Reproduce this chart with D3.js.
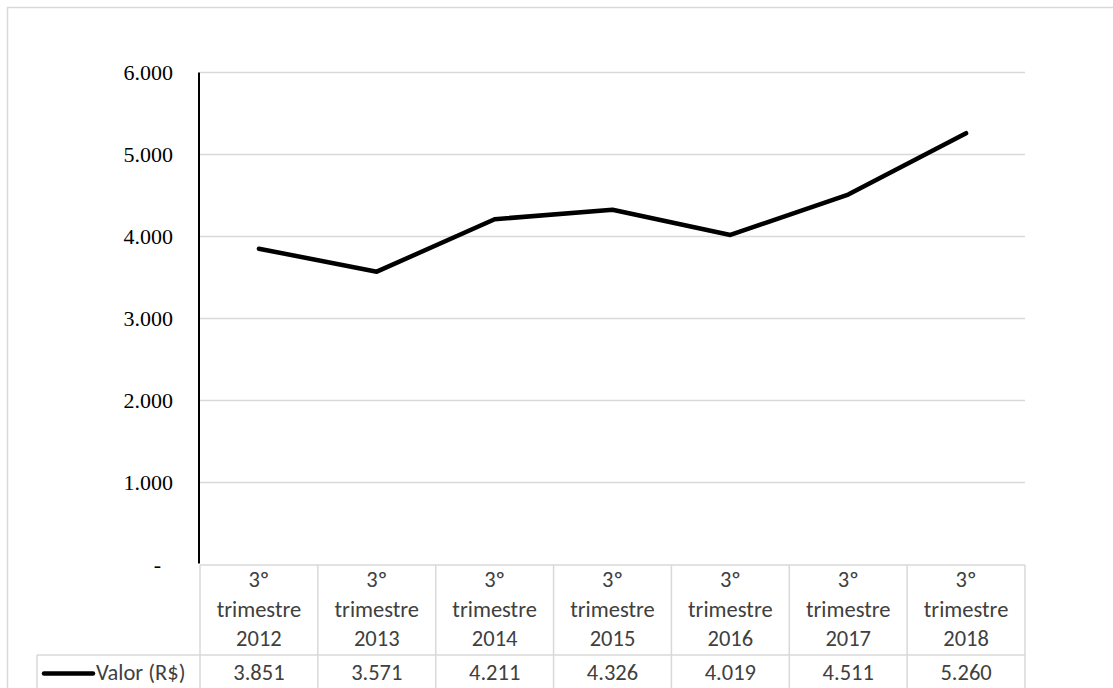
<!DOCTYPE html>
<html>
<head>
<meta charset="utf-8">
<script src="https://cdn.jsdelivr.net/npm/d3@7"></script>
<style>
  body { margin: 0; background: #fff; }
  svg { display: block; }
</style>
</head>
<body>
<svg id="viz"></svg>
<script>
/* Data */

const periods = ["3º trimestre 2012", "3º trimestre 2013", "3º trimestre 2014", "3º trimestre 2015",
                 "3º trimestre 2016", "3º trimestre 2017", "3º trimestre 2018"];
const values = [3851, 3571, 4211, 4326, 4019, 4511, 5260];
const valueLabels = ["3.851", "3.571", "4.211", "4.326", "4.019", "4.511", "5.260"];
const yTicks = [0, 1000, 2000, 3000, 4000, 5000, 6000];
const seriesName = "Valor (R$)";

/* Environment */

const width = 1113, height = 688;
const grid = "#d9d9d9";
const tableFont = "Carlito, Lato, 'Open Sans', sans-serif";

const svg = d3.select("#viz").attr("width", width).attr("height", height);

/* Scales */

const x = d3.scaleBand().domain(periods).range([200, 1025]).padding(0);
const y = d3.scaleLinear().domain([0, 6000]).range([564.5, 72.5]);

/* Chart border */

svg.append("rect")
    .attr("x", 7.5).attr("y", 7.5)
    .attr("width", width).attr("height", height)
    .attr("fill", "none").attr("stroke", grid).attr("stroke-width", 1.5);

/* Gridlines */

svg.append("g").selectAll("line")
  .data(yTicks.slice(1))
  .join("line")
    .attr("x1", 200).attr("x2", 1025)
    .attr("y1", d => y(d)).attr("y2", d => y(d))
    .attr("stroke", grid).attr("stroke-width", 1.5);

/* Y axis */

const fmt = d => d === 0 ? "-" : d3.format(",")(d).replace(/,/g, ".");

svg.append("g")
    .attr("transform", "translate(199,0)")
    .call(d3.axisLeft(y).tickValues(yTicks).tickSize(0).tickPadding(26).tickFormat(fmt))
    .call(g => g.select(".domain").attr("stroke", "#000").attr("stroke-width", 2)
        .attr("d", `M0,${y(6000)}V${y(0) - 1}`))
    .call(g => g.selectAll("text")
        .attr("font-family", "'Liberation Serif', 'Times New Roman', serif")
        .attr("font-size", 22).attr("fill", "#000")
        .attr("dx", d => d === 0 ? -12 : 0));

/* Data table */

const table = svg.append("g").attr("font-family", tableFont).attr("font-size", 22.5).attr("fill", "#404040");
const headTop = 565, rowTop = 655, rowBottom = 690;

table.append("line").attr("x1", 200).attr("x2", 1025).attr("y1", headTop).attr("y2", headTop)
    .attr("stroke", grid).attr("stroke-width", 1.5);
table.append("line").attr("x1", 37).attr("x2", 1025).attr("y1", rowTop).attr("y2", rowTop)
    .attr("stroke", grid).attr("stroke-width", 1.5);
table.append("line").attr("x1", 37).attr("x2", 37).attr("y1", rowTop).attr("y2", rowBottom)
    .attr("stroke", grid).attr("stroke-width", 1.5);

const edges = periods.map(p => x(p)).concat([x.range()[1]]);
table.selectAll("line.col")
  .data(edges)
  .join("line")
    .attr("class", "col")
    .attr("x1", d => d).attr("x2", d => d)
    .attr("y1", headTop).attr("y2", rowBottom)
    .attr("stroke", grid).attr("stroke-width", 1.5);

const head = table.selectAll("text.head")
  .data(periods)
  .join("text")
    .attr("class", "head")
    .attr("text-anchor", "middle");

head.selectAll("tspan")
  .data(d => d.split(" ").map(t => ({t, p: d})))
  .join("tspan")
    .attr("x", d => x(d.p) + x.bandwidth() / 2)
    .attr("y", (d, i) => 587 + i * 29.5)
    .text(d => d.t);

table.selectAll("text.val")
  .data(values)
  .join("text")
    .attr("class", "val")
    .attr("x", (d, i) => x(periods[i]) + x.bandwidth() / 2)
    .attr("y", 680)
    .attr("text-anchor", "middle")
    .text((d, i) => valueLabels[i]);

/* Legend key */

table.append("line")
    .attr("x1", 44).attr("x2", 93).attr("y1", 673.5).attr("y2", 673.5)
    .attr("stroke", "#000").attr("stroke-width", 4.5).attr("stroke-linecap", "round");
table.append("text")
    .attr("x", 96).attr("y", 680)
    .text(seriesName);

/* Line */

const line = d3.line()
    .x((d, i) => x(periods[i]) + x.bandwidth() / 2)
    .y(d => y(d));

svg.append("path")
    .datum(values)
    .attr("fill", "none")
    .attr("stroke", "#000")
    .attr("stroke-width", 4.5)
    .attr("stroke-linecap", "round")
    .attr("stroke-linejoin", "round")
    .attr("d", line);
</script>
</body>
</html>
